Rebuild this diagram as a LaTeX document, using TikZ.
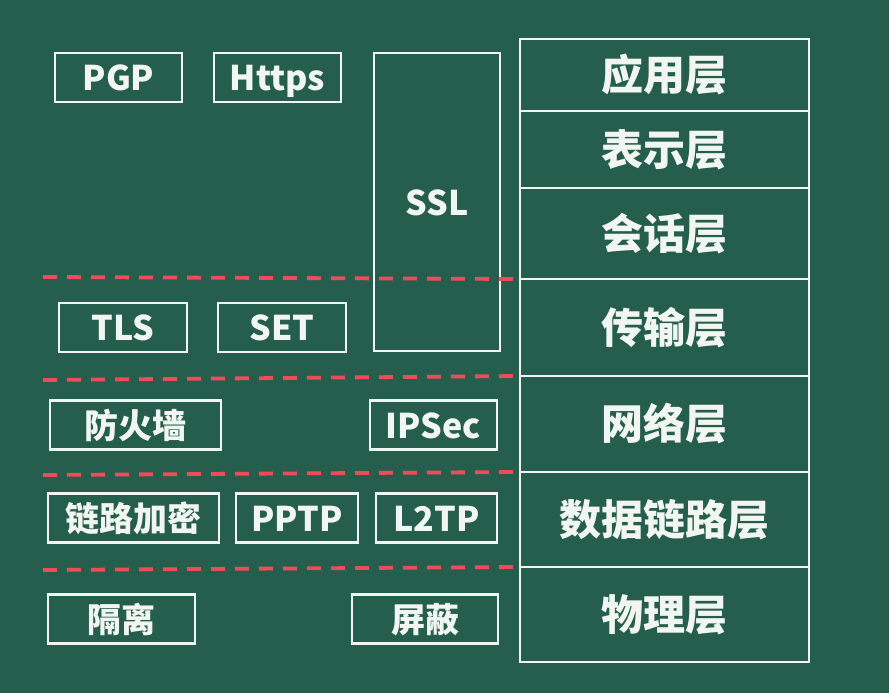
\documentclass[tikz,border=0pt]{standalone}
\usepackage{fontspec}
\setmainfont{Noto Sans CJK SC}
\usepackage{tikz}
\usetikzlibrary{positioning}
\definecolor{board}{RGB}{38,94,78}
\definecolor{chalk}{RGB}{242,246,242}
\definecolor{cutred}{RGB}{238,76,90}

\begin{document}
\begin{tikzpicture}[
  x=1pt, y=-1pt,
  % White outlined tags on the board; the OSI stack on the right shares its edges.
  tag/.style={draw=chalk, line width=2.6pt, inner sep=0pt, text=chalk,
              font=\fontsize{34}{36}\selectfont\bfseries, minimum height=49pt,
              text height=30pt, text depth=4pt},
  layer/.style={draw=chalk, line width=2.8pt, inner sep=0pt, outer sep=0pt, text=chalk,
                font=\fontsize{42}{44}\selectfont\bfseries, minimum width=289pt,
                text height=36.5pt, text depth=5.5pt},
  cut/.style={draw=cutred, line width=3.8pt, dash pattern=on 14pt off 10pt}
]
\fill[board] (0,0) rectangle (889,693);
\useasboundingbox (0,0) rectangle (889,693);

\node[layer, minimum height=72pt] (app) at (664.5,75) {应用层};
\node[layer, minimum height=77pt, below=0pt of app] (pres) {表示层};
\node[layer, minimum height=91pt, below=0pt of pres] (sess) {会话层};
\node[layer, minimum height=97pt, below=0pt of sess] (trans) {传输层};
\node[layer, minimum height=96pt, below=0pt of trans] (net) {网络层};
\node[layer, minimum height=95pt, below=0pt of net] (link) {数据链路层};
\node[layer, minimum height=95pt, below=0pt of link] (phys) {物理层};

\node[tag, minimum width=127pt] (pgp) at (118.5,77.5) {PGP};
\node[tag, minimum width=127pt] (https) at (277.5,77.5) {Https};
\node[tag, minimum width=126pt, minimum height=298pt] (ssl) at (437,202) {SSL};
\node[tag, minimum width=128pt] (tls) at (123,327.5) {TLS};
\node[tag, minimum width=128pt] (set) at (282,327.5) {SET};
\node[tag, minimum width=171pt] (fw) at (135.5,425) {防火墙};
\node[tag, minimum width=127pt] (ipsec) at (433.5,425) {IPSec};
\node[tag, minimum width=171pt] (enc) at (133.5,518) {链路加密};
\node[tag, minimum width=122pt] (pptp) at (297,518) {PPTP};
\node[tag, minimum width=121pt] (ltwotp) at (436.5,518) {L2TP};
\node[tag, minimum width=147pt] (iso) at (121.5,619) {隔离};
\node[tag, minimum width=146pt] (shield) at (425,619) {屏蔽};

\coordinate (c1) at (43,277);
\coordinate (c2) at (43,380);
\coordinate (c3) at (43,475);
\coordinate (c4) at (43,570);
\foreach \a/\b in {c1/trans, c2/net, c3/link, c4/phys}
  \draw[cut] (\a) -- (\b.north west);
\end{tikzpicture}
\end{document}
